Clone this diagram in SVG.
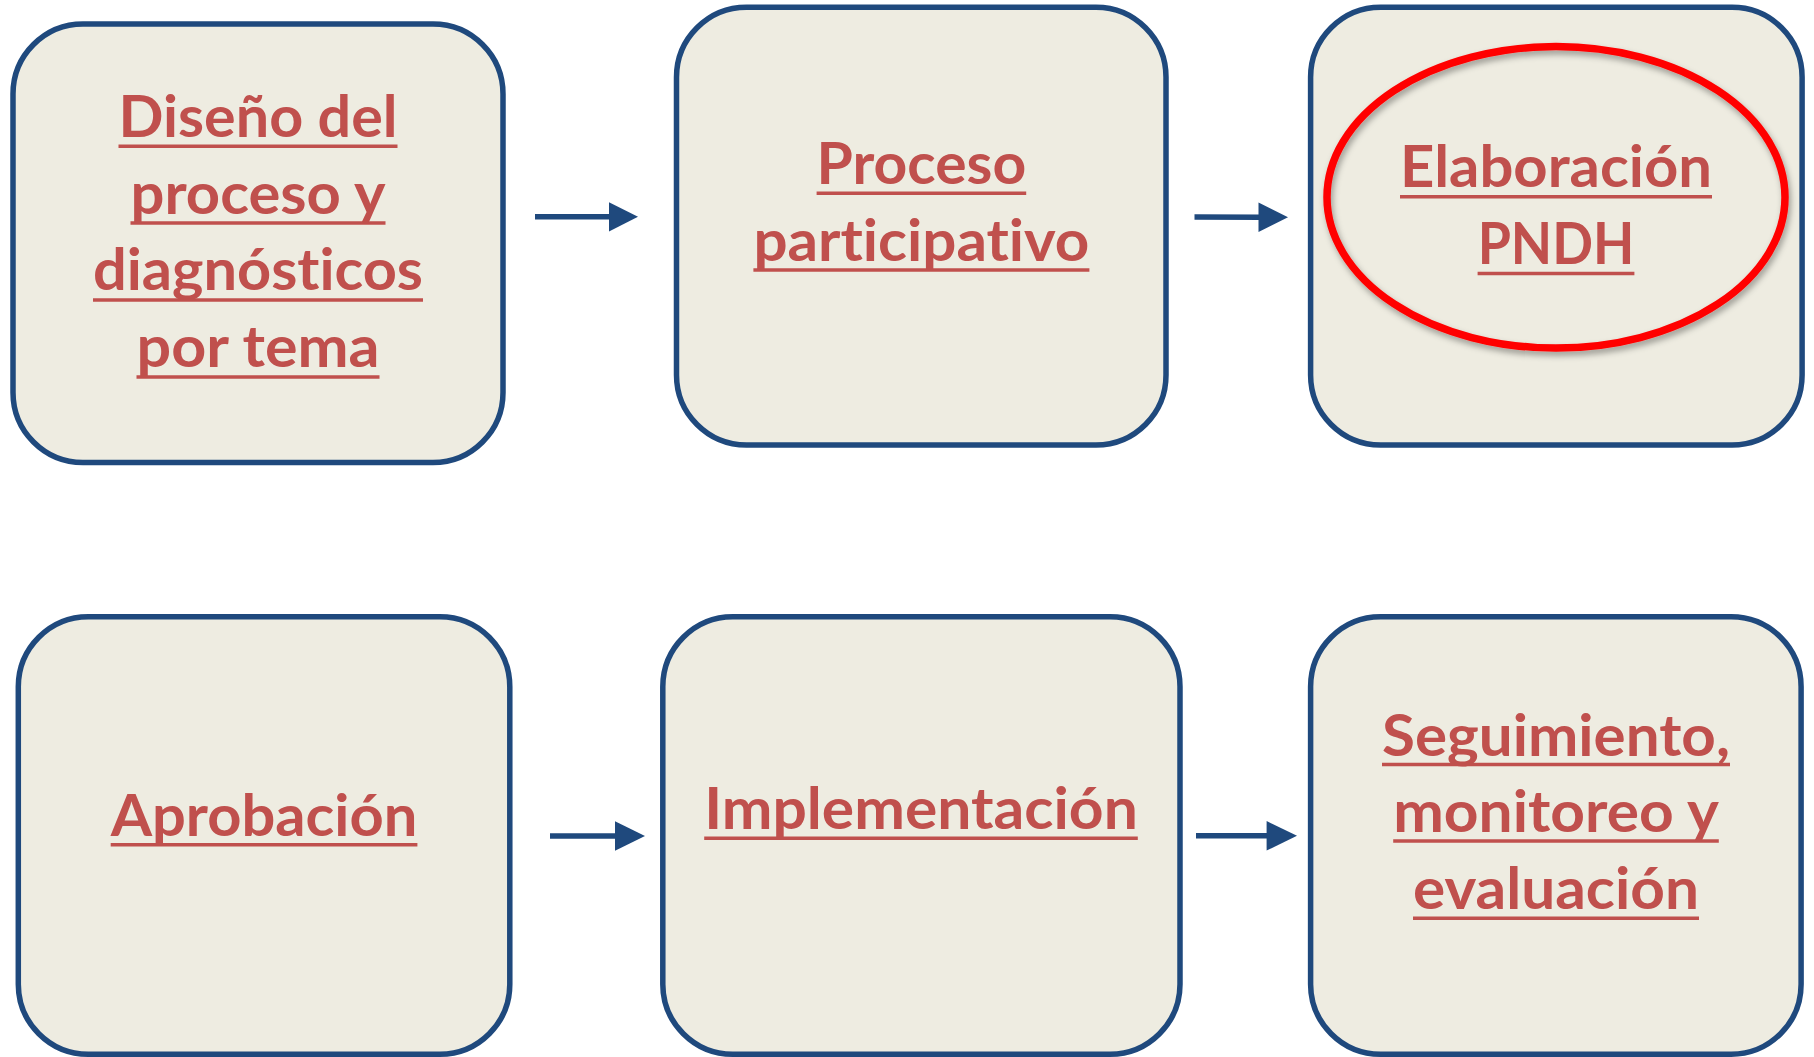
<svg xmlns="http://www.w3.org/2000/svg" width="1814" height="1057" viewBox="0 0 1814 1057">
<style>
  .box { fill: #EEECE1; stroke: #1F497D; stroke-width: 5.5; }
  .lbl { font-family: Lato, "Liberation Sans", sans-serif; font-weight: bold; font-size: 57px; fill: #C0504D; text-anchor: middle; font-variant-ligatures: none; font-feature-settings: "liga" 0, "clig" 0, "dlig" 0; }
  .ul { stroke: #C0504D; stroke-width: 3.5; }
  .conn line { stroke: #1F497D; stroke-width: 5.5; }
  .conn polygon { fill: #1F497D; }
</style>
<defs>
  <filter id="shadow" x="-10%" y="-10%" width="120%" height="130%">
    <feDropShadow dx="2" dy="4" stdDeviation="3" flood-color="#000" flood-opacity="0.35"/>
  </filter>
</defs>
<rect width="1814" height="1057" fill="#FFFFFF"/>

<g id="node-diseno">
  <rect class="box" x="13" y="24" width="490" height="438.5" rx="70" ry="70"/>
  <text class="lbl" x="258" y="136.7" textLength="279" lengthAdjust="spacingAndGlyphs">Diseño del</text>
  <line class="ul" x1="118.5" y1="146.3" x2="397.5" y2="146.3"/>
  <text class="lbl" x="258" y="213.5" textLength="255" lengthAdjust="spacingAndGlyphs">proceso y</text>
  <line class="ul" x1="130.5" y1="223" x2="385.5" y2="223"/>
  <text class="lbl" x="258" y="290.3" textLength="330" lengthAdjust="spacingAndGlyphs">diagnósticos</text>
  <line class="ul" x1="93" y1="300" x2="423" y2="300"/>
  <text class="lbl" x="258" y="367.1" textLength="243" lengthAdjust="spacingAndGlyphs">por tema</text>
  <line class="ul" x1="136.5" y1="377" x2="379.5" y2="377"/>
</g>

<g id="node-proceso">
  <rect class="box" x="676.5" y="7.3" width="489.5" height="437.7" rx="70" ry="70"/>
  <text class="lbl" x="921.4" y="184" textLength="209.6" lengthAdjust="spacingAndGlyphs">Proceso</text>
  <line class="ul" x1="816.6" y1="193.3" x2="1026.2" y2="193.3"/>
  <text class="lbl" x="921.4" y="260.7" textLength="336" lengthAdjust="spacingAndGlyphs">participativo</text>
  <line class="ul" x1="753.4" y1="270" x2="1089.4" y2="270"/>
</g>

<g id="node-elaboracion">
  <rect class="box" x="1310.6" y="7.3" width="491.5" height="437.7" rx="70" ry="70"/>
  <text class="lbl" x="1556" y="187.3" textLength="312" lengthAdjust="spacingAndGlyphs">Elaboración</text>
  <line class="ul" x1="1400" y1="196.8" x2="1712" y2="196.8"/>
  <text class="lbl" x="1556" y="264" textLength="156.7" lengthAdjust="spacingAndGlyphs">PNDH</text>
  <line class="ul" x1="1477.6" y1="273.5" x2="1634.4" y2="273.5"/>
  <ellipse cx="1556" cy="197.3" rx="229" ry="150.8" fill="none" stroke="#FF0000" stroke-width="7.5" filter="url(#shadow)"/>
</g>

<g id="node-aprobacion">
  <rect class="box" x="18.3" y="616.7" width="491.5" height="437.5" rx="70" ry="70"/>
  <text class="lbl" x="264" y="835.7" textLength="306.7" lengthAdjust="spacingAndGlyphs">Aprobación</text>
  <line class="ul" x1="110.7" y1="844.8" x2="417.4" y2="844.8"/>
</g>

<g id="node-implementacion">
  <rect class="box" x="662.8" y="616.7" width="517.2" height="437.5" rx="70" ry="70"/>
  <text class="lbl" x="921" y="829.3" textLength="433.6" lengthAdjust="spacingAndGlyphs">Implementación</text>
  <line class="ul" x1="704.2" y1="838.2" x2="1137.8" y2="838.2"/>
</g>

<g id="node-seguimiento">
  <rect class="box" x="1310.6" y="616.7" width="490.5" height="437.5" rx="70" ry="70"/>
  <text class="lbl" x="1556" y="755.7" textLength="348" lengthAdjust="spacingAndGlyphs">Seguimiento,</text>
  <line class="ul" x1="1382" y1="764.5" x2="1730" y2="764.5"/>
  <text class="lbl" x="1556" y="832.3" textLength="325.6" lengthAdjust="spacingAndGlyphs">monitoreo y</text>
  <line class="ul" x1="1393.2" y1="841" x2="1718.8" y2="841"/>
  <text class="lbl" x="1556" y="909.3" textLength="286" lengthAdjust="spacingAndGlyphs">evaluación</text>
  <line class="ul" x1="1413" y1="918.2" x2="1699" y2="918.2"/>
</g>

<g id="connectors" class="conn">
  <line x1="535" y1="216.7" x2="611" y2="216.7"/>
  <polygon points="609,202.3 638,216.7 609,231.5"/>
  <line x1="1194.5" y1="217" x2="1260" y2="217.2"/>
  <polygon points="1258.5,202.5 1288,217.3 1258.5,232"/>
  <line x1="550" y1="836" x2="617" y2="836"/>
  <polygon points="615,821.3 645,836 615,850.7"/>
  <line x1="1196" y1="835.8" x2="1268" y2="835.8"/>
  <polygon points="1266.6,821 1297,835.8 1266.6,850.6"/>
</g>
</svg>
